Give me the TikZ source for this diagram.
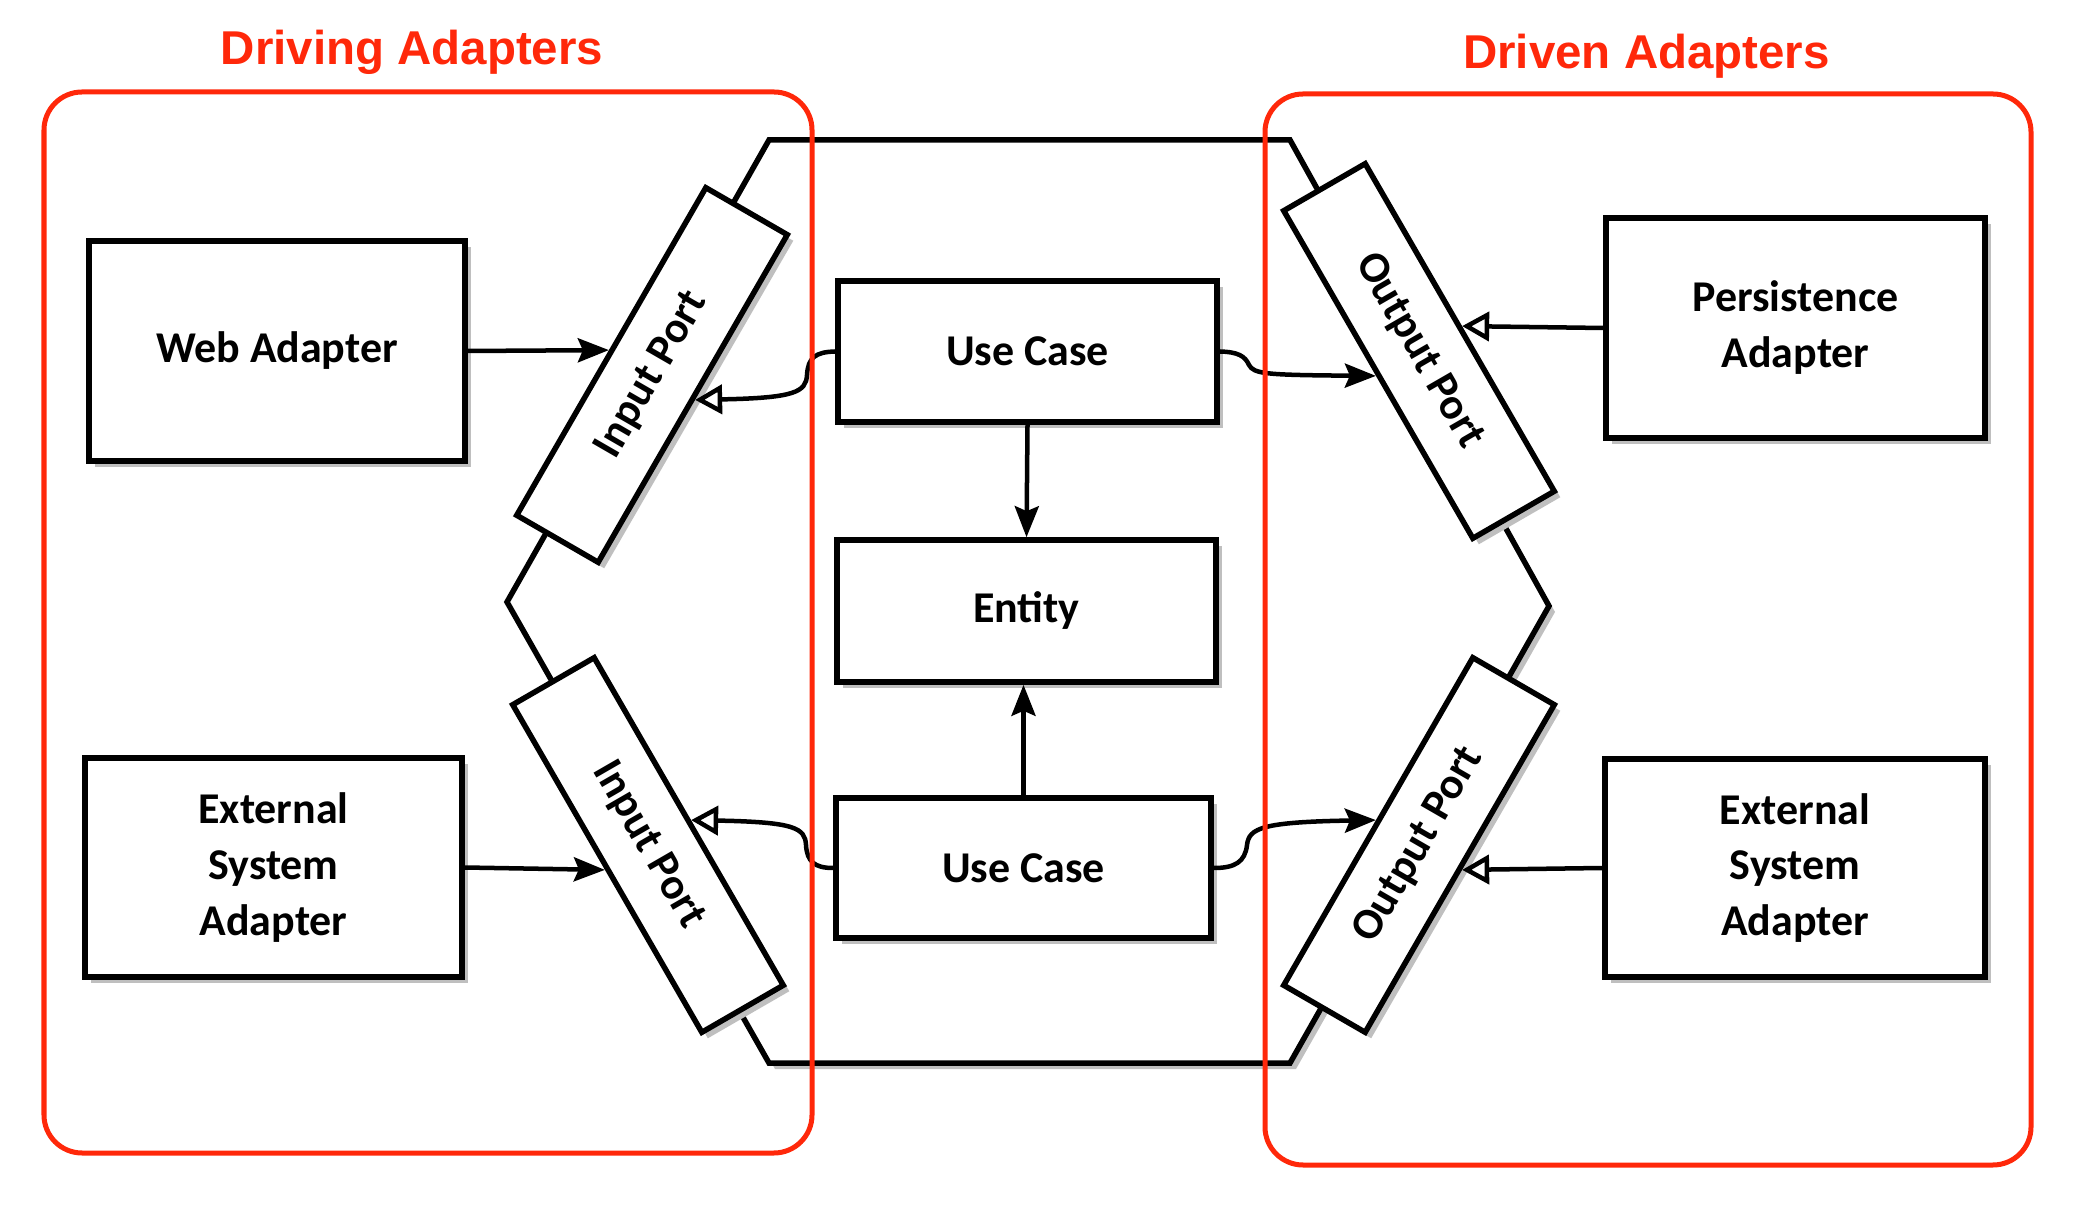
\documentclass[tikz,border=0pt]{standalone}
\usepackage{fontspec}
\setmainfont{Carlito}
\newfontfamily\titlefont{Liberation Sans}
\usetikzlibrary{arrows.meta,shadows}
\definecolor{grpred}{RGB}{255,40,10}
\tikzset{
  sk/.style={line width=0.055cm, draw=black},
  shad/.style={drop shadow={shadow xshift=0.06cm, shadow yshift=-0.06cm, fill=black!25, opacity=1}},
  box/.style={sk, fill=white, rectangle, inner sep=0pt, align=center,
    font=\bfseries\fontsize{12.5}{15.9}\selectfont, shad},
  port/.style={box, minimum width=3.78cm, minimum height=0.94cm},
  conn/.style={line width=0.045cm},
  fa/.style={conn, -{Stealth[length=0.31cm, width=0.24cm, inset=0.05cm]}},
  oa/.style={conn, -{Triangle[open, length=0.27cm, width=0.29cm, fill=white]}},
  grp/.style={draw=grpred, line width=0.05cm, rounded corners=0.38cm},
  ttl/.style={text=grpred, font=\titlefont\bfseries\fontsize{13.5}{16}\selectfont, inner sep=0pt, anchor=base}
}
\begin{document}
\begin{tikzpicture}[x=0.01cm, y=-0.01cm]
\useasboundingbox (0,0) rectangle (2076,1210);
% hexagon (application core)
\draw[sk, fill=white, shad] (769,140) -- (1290,140) -- (1549,606) -- (1290,1063) -- (769,1063) -- (507,602) -- cycle;
% ports
\node[port, rotate=60]  (ip1) at (652,375) {Input Port};
\node[port, rotate=-60] (ip2) at (648,845) {Input Port};
\node[port, rotate=-60] (op1) at (1419,351) {Output Port};
\node[port, rotate=60]  (op2) at (1419,845) {Output Port};
% boxes
\node[box, minimum width=3.76cm, minimum height=2.20cm] (web)  at (277,351)    {Web Adapter};
\node[box, minimum width=3.77cm, minimum height=2.19cm] (extl) at (273.5,867.5) {External\\System\\Adapter};
\node[box, minimum width=3.79cm, minimum height=2.20cm] (pers) at (1795.5,328) {Persistence\\Adapter};
\node[box, minimum width=3.80cm, minimum height=2.18cm] (extr) at (1795,868)   {External\\System\\Adapter};
\node[box, minimum width=3.79cm, minimum height=1.41cm] (uc1)  at (1027.5,351.5) {Use Case};
\node[box, minimum width=3.79cm, minimum height=1.42cm] (ent)  at (1026.5,611)  {Entity};
\node[box, minimum width=3.75cm, minimum height=1.40cm] (uc2)  at (1023.5,868)  {Use Case};
% connectors
\draw[fa] (web.east) -- (ip1.north);
\draw[fa] (extl.east) -- (ip2.south);
\draw[oa] (pers.west) -- (op1.north);
\draw[oa] (extr.west) -- (op2.south);
\draw[fa] (uc1.south) -- (ent.north);
\draw[fa] (uc2.north) -- (uc2.north |- ent.south);
\draw[oa] (uc1.west) .. controls (815,352) and (808,358) .. (807,375)
          .. controls (806,392) and (795,398) .. (ip1.south);
\draw[fa] (uc1.east) .. controls (1238,352) and (1245,356) .. (1249,365)
          .. controls (1254,374) and (1265,375) .. (op1.south);
\draw[oa] (uc2.west) .. controls (815,868) and (807,862) .. (806,845)
          .. controls (805,828) and (795,822) .. (ip2.north);
\draw[fa] (uc2.east) .. controls (1235,868) and (1245,862) .. (1247,845)
          .. controls (1249,828) and (1262,822) .. (op2.north);
% groups
\draw[grp] (44,92) rectangle (812,1153);
\draw[grp] (1265,94) rectangle (2031,1165);
\node[ttl] (tdriving) at (412,65) {Driving Adapters};
\node[ttl] (tdriven) at (1646.5,69) {Driven Adapters};
\end{tikzpicture}
\end{document}
